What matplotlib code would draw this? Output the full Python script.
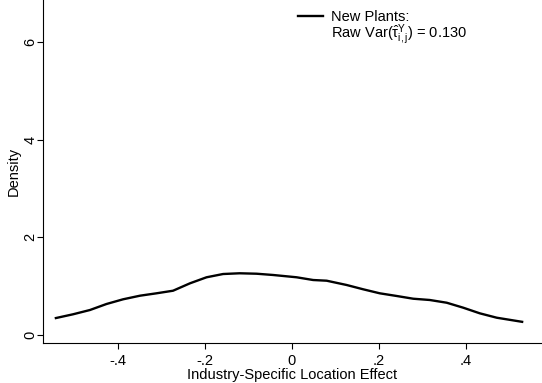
import numpy as np
import matplotlib
matplotlib.use("Agg")
import matplotlib.pyplot as plt
from matplotlib.lines import Line2D

plt.rcParams["font.family"] = ["Liberation Sans", "DejaVu Sans"]
plt.rcParams["mathtext.fontset"] = "custom"
plt.rcParams["mathtext.rm"] = "Liberation Sans"
plt.rcParams["mathtext.it"] = "Liberation Sans"

# density estimate
effect = [-0.545, -0.503, -0.464, -0.426, -0.388, -0.349, -0.311, -0.273, -0.234,
          -0.196, -0.158, -0.120, -0.081, -0.043, 0.011, 0.049, 0.080, 0.126,
          0.164, 0.202, 0.241, 0.279, 0.317, 0.356, 0.394, 0.432, 0.471, 0.532]
density = [0.342, 0.424, 0.512, 0.635, 0.731, 0.805, 0.854, 0.907, 1.059,
           1.182, 1.249, 1.264, 1.255, 1.229, 1.182, 1.126, 1.112, 1.024,
           0.936, 0.854, 0.799, 0.743, 0.717, 0.661, 0.559, 0.444, 0.354, 0.266]

xticks = [-0.4, -0.2, 0, 0.2, 0.4]
xlabels = ["-.4", "-.2", "0", ".2", ".4"]
yticks = [0, 2, 4, 6]

fig = plt.figure(figsize=(5.42, 3.83), dpi=100)
ax = fig.add_axes([0.0793, 0.1044, 0.9207, 0.8956])

ax.plot(effect, density, color="black", lw=1.7, solid_capstyle="butt")

ax.set_xlim(-0.572, 0.575)
ax.set_ylim(-0.164, 6.86)
ax.set_xticks(xticks)
ax.set_xticklabels(xlabels)
ax.set_yticks(yticks)
ax.set_yticklabels([str(v) for v in yticks], rotation=90, va="center")

for s in ["top", "right"]:
    ax.spines[s].set_visible(False)
ax.tick_params(labelsize=10.5, length=4, width=0.8)
ax.tick_params(axis="x", pad=3.7)
ax.tick_params(axis="y", pad=0)
ax.set_xlabel("Industry-Specific Location Effect", fontsize=10.5, labelpad=0.5)
ax.set_ylabel("Density", fontsize=10.5, labelpad=2)

# legend: line next to the first text row only
handles = [Line2D([], [], color="black", lw=1.7),
           Line2D([], [], color="none")]
labels = ["New Plants:", "Raw Var($\\hat{\\tau}_{i,j}^{Y}$) = 0.130"]
ax.legend(handles, labels, loc="upper left", bbox_to_anchor=(0.49, 1.0),
          frameon=False, fontsize=10.5, handlelength=1.7, handletextpad=0.6,
          labelspacing=-0.1, borderaxespad=0.3)

fig.savefig("out.png", dpi=100)
